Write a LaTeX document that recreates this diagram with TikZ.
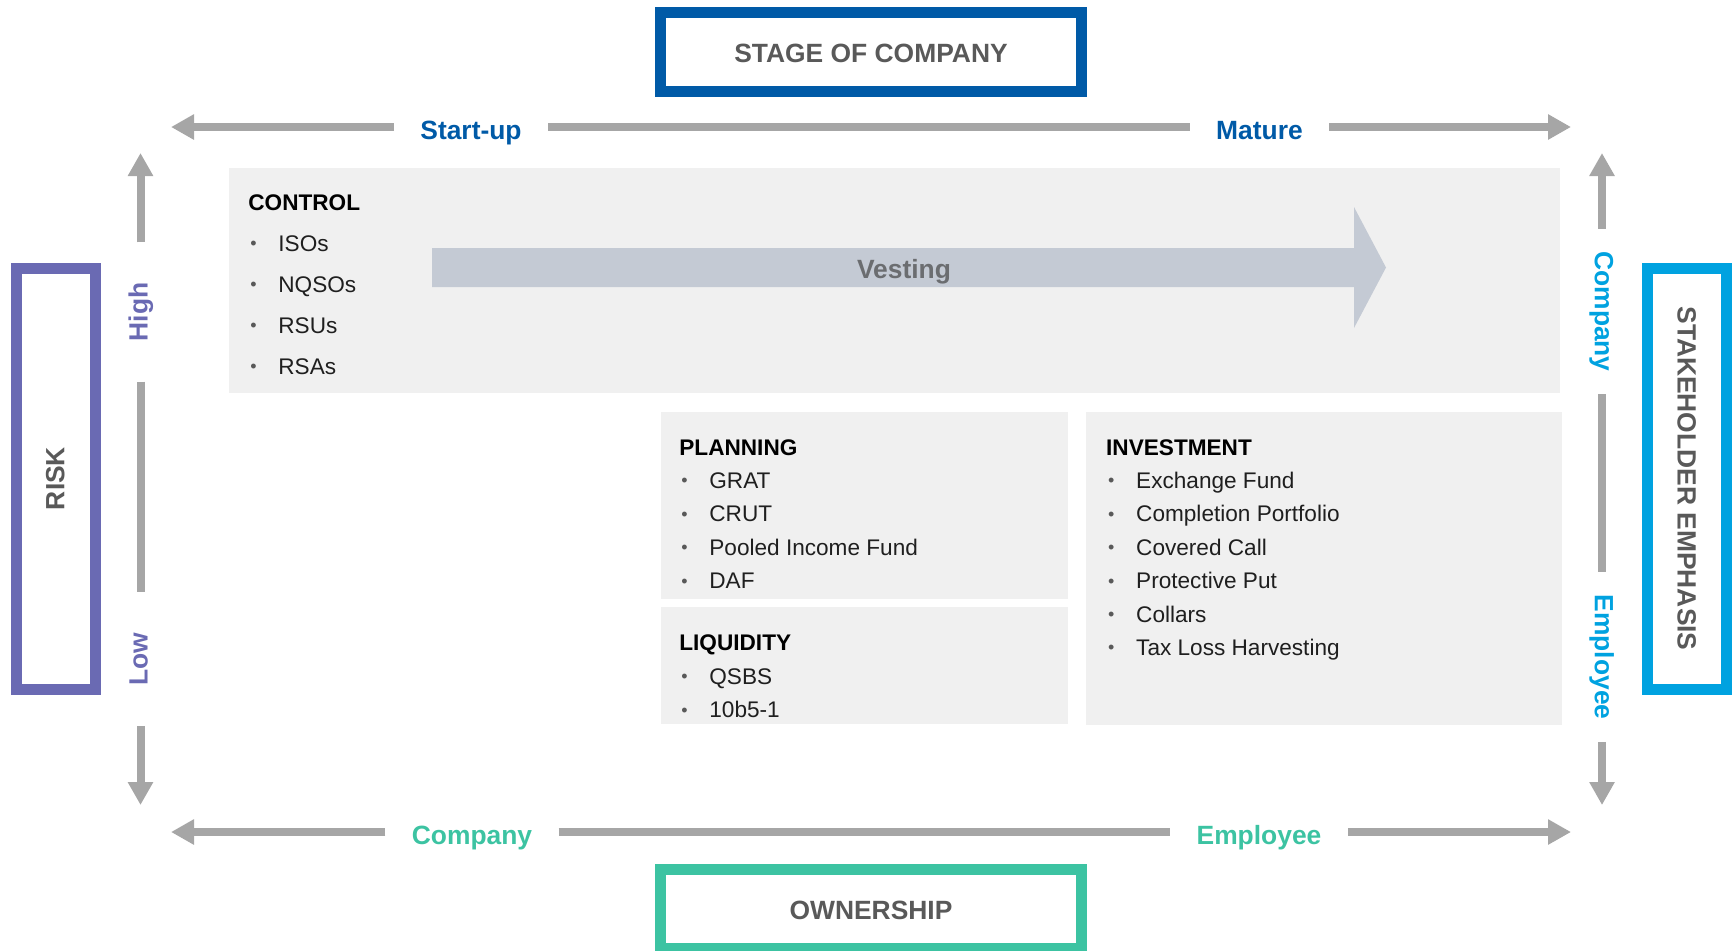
\documentclass[tikz,border=0pt]{standalone}
\usepackage{fontspec}
\setmainfont{Liberation Sans}
\usepackage{xcolor}
\usepackage{tikz}
\usetikzlibrary{shapes,arrows.meta,positioning,calc}

\definecolor{stageblue}{HTML}{005AA7}
\definecolor{riskpurple}{HTML}{6A6AB3}
\definecolor{holdercyan}{HTML}{00A2E0}
\definecolor{ownergreen}{HTML}{3CC3A2}
\definecolor{axisgray}{HTML}{A6A6A6}
\definecolor{framegray}{HTML}{595959}
\definecolor{panelgray}{HTML}{F0F0F0}
\definecolor{vestfill}{HTML}{C4CAD4}
\definecolor{vesttext}{HTML}{6B6D70}
\definecolor{bodytext}{HTML}{1F1F1F}

\newcommand{\bl}{\hspace*{1pt}\makebox[14pt][l]{\raisebox{0.8pt}{\textcolor{framegray}{\fontsize{9}{9}\selectfont\textbullet}}}}
\newcommand{\bigbf}{\bfseries\fontsize{13.2}{16}\selectfont}

\begin{document}
\begin{tikzpicture}[x=0.5pt, y=-0.5pt,
    frame/.style={draw, line width=5.5pt, fill=white, minimum width=210.5pt, minimum height=39.5pt, inner sep=0pt, text=framegray, font=\bigbf, text height=0.89em, text depth=0pt},
    axislbl/.style={font=\bigbf, text height=1.24em, text depth=0pt, inner ysep=0pt, inner xsep=13pt},
    sidelbl/.style={axislbl, text height=0.72em},
    axis/.style={draw=axisgray, line width=4pt},
    tip/.style={-{Triangle[length=11.5pt, width=12pt]}},
    panel/.style={fill=panelgray, inner sep=0pt, anchor=north west},
    listtxt/.style={inner sep=0pt, align=left, text=bodytext}]

    \useasboundingbox (0,0) rectangle (1735,950);

    % frames round the picture
    \node[frame, draw=stageblue, text height=1.06em] (stage) at (871,51.5) {STAGE OF COMPANY};
    \node[frame, draw=ownergreen, text height=1.06em] (owner) at (871,909) {OWNERSHIP};
    \node[frame, draw=riskpurple, rotate=90] (risk) at (55.5,478.5) {RISK};
    \node[frame, draw=holdercyan, rotate=-90] (holder) at (1686.5,478.5) {STAKEHOLDER EMPHASIS};

    % panels
    \node[panel, minimum width=665.5pt, minimum height=112.5pt] (control) at (229,168) {};
    \node[panel, minimum width=203.5pt, minimum height=93.5pt] (planning) at (661,412) {};
    \node[panel, minimum width=203.5pt, minimum height=58.5pt, below=3.5pt of planning.south west, anchor=north west] (liquidity) {};
    \node[panel, minimum width=238pt, minimum height=156.5pt, right=8.5pt of planning.north east, anchor=north west] (invest) {};

    % vesting arrow
    \fill[vestfill] (432,248) -- (1354,248) -- (1354,207) -- (1386,267.5) -- (1354,328) -- (1354,287) -- (432,287) -- cycle;
    \node[font=\bigbf, text=vesttext] (vesting) at (904,272) {Vesting};

    % lists
    \node[listtxt, below right=13pt and 9.5pt of control.north west, font=\fontsize{11.3}{20.5}\selectfont] (controltxt)
        {\textcolor{black}{\bfseries CONTROL}\\ \bl ISOs\\ \bl NQSOs\\ \bl RSUs\\ \bl RSAs};
    \node[listtxt, below right=13.5pt and 9pt of planning.north west, font=\fontsize{11.3}{16.7}\selectfont] (planningtxt)
        {\textcolor{black}{\bfseries PLANNING}\\ \bl GRAT\\ \bl CRUT\\ \bl Pooled Income Fund\\ \bl DAF};
    \node[listtxt, below right=14pt and 9pt of liquidity.north west, font=\fontsize{11.3}{16.7}\selectfont] (liquiditytxt)
        {\textcolor{black}{\bfseries LIQUIDITY}\\ \bl QSBS\\ \bl 10b5-1};
    \node[listtxt, below right=13.5pt and 10pt of invest.north west, font=\fontsize{11.3}{16.7}\selectfont] (investtxt)
        {\textcolor{black}{\bfseries INVESTMENT}\\ \bl Exchange Fund\\ \bl Completion Portfolio\\ \bl Covered Call\\ \bl Protective Put\\ \bl Collars\\ \bl Tax Loss Harvesting};

    % axis labels
    \node[axislbl, text=stageblue] (startup) at (471,127) {Start-up};
    \node[axislbl, text=stageblue] (mature) at (1259.5,127) {Mature};
    \node[axislbl, text=ownergreen] (ocomp) at (472,832) {Company};
    \node[axislbl, text=ownergreen] (oemp) at (1259,832) {Employee};
    \node[sidelbl, text=riskpurple, rotate=90, inner xsep=20pt] (high) at (140.5,312) {High};
    \node[sidelbl, text=riskpurple, rotate=90, inner xsep=20pt] (low) at (140.5,659) {Low};
    \node[sidelbl, text=holdercyan, rotate=-90, inner xsep=11pt] (scomp) at (1602,311.5) {Company};
    \node[sidelbl, text=holdercyan, rotate=-90, inner xsep=11pt] (semp) at (1602,657) {Employee};

    \coordinate (topl) at (171,127);
    \coordinate (topr) at (1571,127);
    \coordinate (botl) at (171,832);
    \coordinate (botr) at (1571,832);
    \coordinate (leftt) at (140.5,153);
    \coordinate (leftb) at (140.5,805);
    \coordinate (rightt) at (1602,153);
    \coordinate (rightb) at (1602,805);

    % axes
    \draw[axis, tip] (startup) -- (topl);
    \draw[axis] (startup) -- (mature);
    \draw[axis, tip] (mature) -- (topr);
    \draw[axis, tip] (ocomp) -- (botl);
    \draw[axis] (ocomp) -- (oemp);
    \draw[axis, tip] (oemp) -- (botr);
    \draw[axis, tip] (high) -- (leftt);
    \draw[axis] (high) -- (low);
    \draw[axis, tip] (low) -- (leftb);
    \draw[axis, tip] (scomp) -- (rightt);
    \draw[axis] (scomp) -- (semp);
    \draw[axis, tip] (semp) -- (rightb);

\end{tikzpicture}
\end{document}
